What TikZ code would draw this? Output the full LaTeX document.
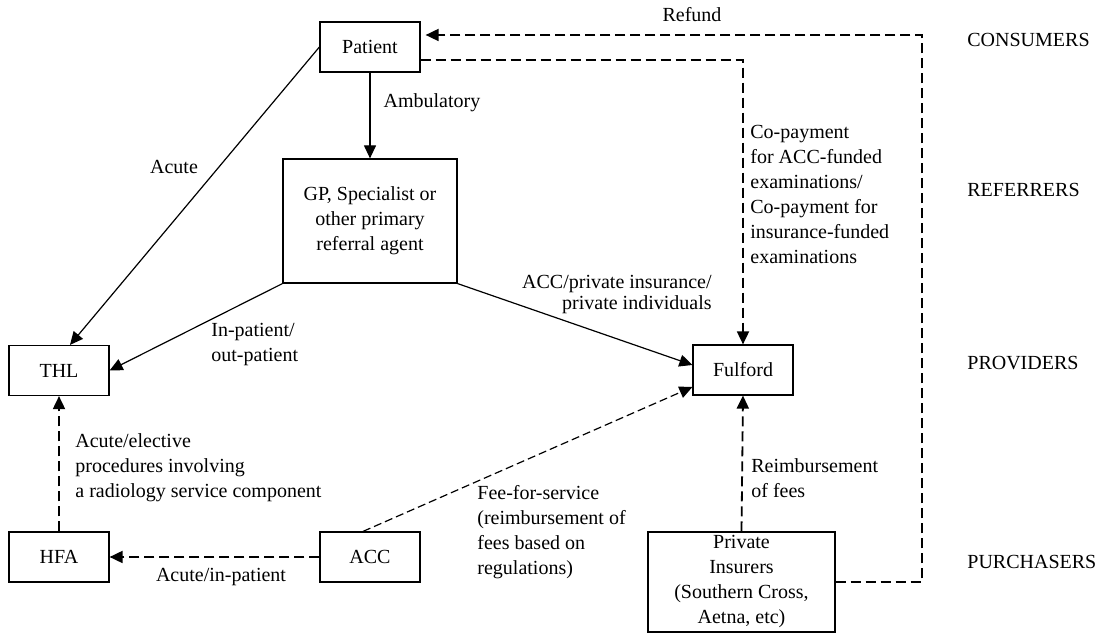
\documentclass[tikz,border=0pt]{standalone}
\usepackage{fontspec}
\setmainfont{Liberation Serif}
\usepackage{tikz}
\usetikzlibrary{arrows.meta,positioning,calc}

\tikzset{
  box/.style={draw,line width=0.6pt,minimum width=50pt,minimum height=25pt,inner sep=1pt,align=center},
  flow/.style={->,line width=0.6pt},
  money/.style={->,line width=0.9pt,dash pattern=on 5pt off 2.5pt},
  lbl/.style={inner sep=0pt,align=left},
  tier/.style={anchor=west,inner sep=0pt}
}

\begin{document}
\begin{tikzpicture}[x=0.5pt,y=-0.5pt,>={Triangle[length=6.5pt,width=6pt]},font=\fontsize{10}{12.5}\selectfont]
\useasboundingbox (0,0) rectangle (1104,635);

% boxes
\node[box] (patient) at (370,47) {Patient};
\node[box,minimum width=87pt,minimum height=62pt] (gp) at (370,221) {GP, Specialist or\\other primary\\referral agent};
\node[box] (thl) at (59,370.5) {THL};
\node[box] (fulford) at (743,370) {Fulford};
\node[box] (hfa) at (59,557) {HFA};
\node[box] (acc) at (370,557) {ACC};
\node[box,minimum width=93.5pt,minimum height=50pt] (insurers) at (741.5,582) {Private\\Insurers\\(Southern Cross,\\Aetna, etc)};

% levels
\node[tier] (consumers) at (967,40) {CONSUMERS};
\node[tier] (referrers) at (967,190) {REFERRERS};
\node[tier] (providers) at (967,363) {PROVIDERS};
\node[tier] (purchasers) at (967,562) {PURCHASERS};

% solid flows
\draw[flow] (patient) -- (gp) node[lbl,anchor=west] (amb) at (383,103) {Ambulatory};
\draw[flow] (patient.west) -- ($(thl.north)+(11,0)$);
\node[lbl] (acute) at (174,167) {Acute};
\draw[flow] (gp.south west) -- (thl.east);
\node[lbl,anchor=north west] (inout) at (211,323) {In-patient/\\out-patient};
\draw[flow] (gp.south east) -- ($(fulford.west)+(0,-5)$);
\node[lbl,anchor=north east,align=right] (accpriv) at (712,275) {ACC/private insurance/\\[-2pt]private individuals};

% dashed flows
\coordinate (rc) at (922,35);
\draw[money] (insurers.east) -| (rc) -- ($(patient.east |- rc)+(5,0)$);
\node[lbl] (refund) at (692,15) {Refund};
\draw[money] ([yshift=-6.5pt]patient.east) -| (fulford.north);
\node[lbl,anchor=north west] (copay) at (750,125) {Co-payment\\for ACC-funded\\examinations/\\Co-payment for\\insurance-funded\\examinations};
\draw[money] (insurers.north) -- (fulford.south);
\node[lbl,anchor=north west] (reimb) at (751,458) {Reimbursement\\of fees};
\draw[money] (hfa.north) -- (thl.south);
\node[lbl,anchor=north west] (elective) at (75,433) {Acute/elective\\procedures involving\\a radiology service component};
\draw[money] (acc.west) -- (hfa.east);
\node[lbl] (acuteinp) at (221,577) {Acute/in-patient};
\draw[->,line width=0.6pt,dash pattern=on 4pt off 2pt] ($(acc.north)+(-7,0)$) -- ($(fulford.west)+(0,17)$);
\node[lbl,anchor=north west] (fee) at (477,485) {Fee-for-service\\(reimbursement of\\fees based on\\regulations)};
\end{tikzpicture}
\end{document}
